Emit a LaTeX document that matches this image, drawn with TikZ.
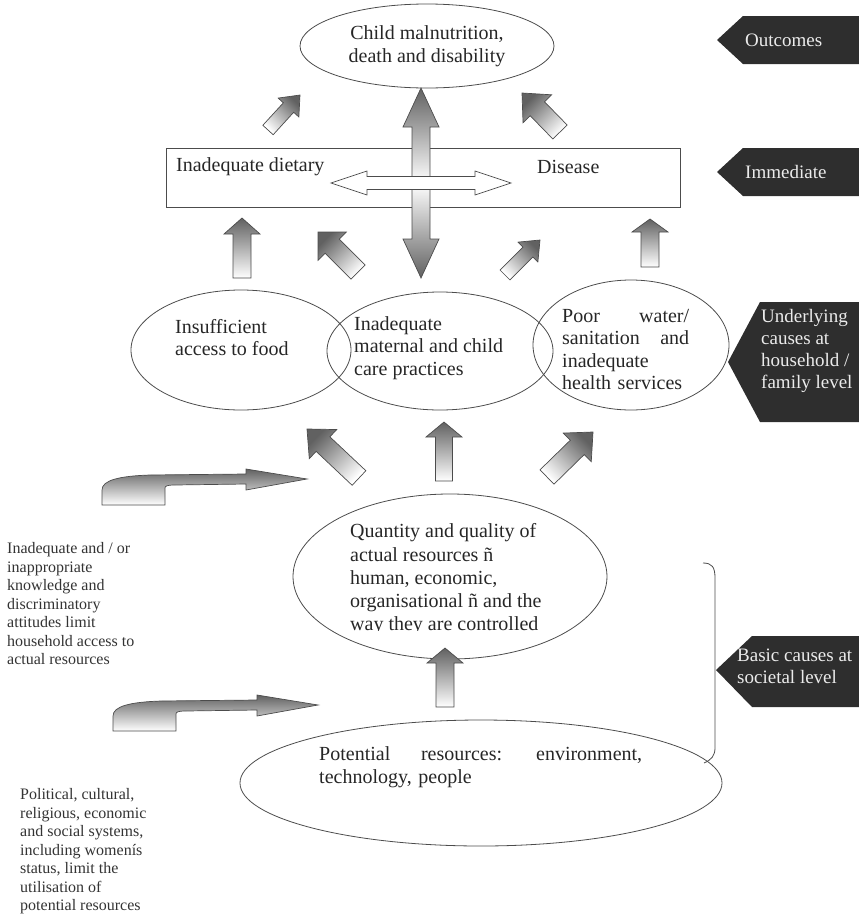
\documentclass[tikz,border=0pt]{standalone}
\usepackage{fontspec}
\setmainfont{Liberation Serif}
\usetikzlibrary{shapes.geometric,calc}

\definecolor{lineg}{gray}{0.3}
\definecolor{tagdark}{gray}{0.18}
\definecolor{headg}{gray}{0.38}

\tikzset{
	oval/.style={ellipse,draw=lineg,line width=0.8pt,inner sep=0pt,outer sep=0pt},
	maintxt/.style={inner sep=0pt,font=\fontsize{20}{22.5}\selectfont,text=black!85,align=left},
	sidetxt/.style={inner sep=0pt,font=\fontsize{16}{18.5}\selectfont,text=black!80,align=left,anchor=west},
	tagtxt/.style={inner sep=0pt,font=\fontsize{19}{21.7}\selectfont,text=white!92!black,align=left,anchor=west},
	tag/.style={fill=tagdark},
	arrowbody/.style={draw=lineg,line width=0.7pt,top color=headg,bottom color=white,shading angle=#1},
	bentbody/.style={draw=lineg,line width=0.7pt,top color=headg,bottom color=white},
	vshade/.style={draw=lineg,line width=0.7pt,top color=headg,bottom color=headg,middle color=white},
	hwhite/.style={draw=lineg,line width=0.7pt,fill=white},
}

% block arrow: [shading angle]{tail}{tip}{half shaft}{half head}{head length}
\newcommand{\blockarrow}[6][0]{%
	\coordinate (hb) at ($(#3)!#6!(#2)$);
	\draw[arrowbody=#1] ($(#2)!#4!90:(#3)$) -- ($(hb)!#4!90:(#3)$) -- ($(hb)!#5!90:(#3)$) -- (#3)
		-- ($(hb)!#5!-90:(#3)$) -- ($(hb)!#4!-90:(#3)$) -- ($(#2)!#4!-90:(#3)$) -- cycle;
}
% double headed block arrow: [style]{end}{end}{half shaft}{half head}{head length}
\newcommand{\dblarrow}[6][hwhite]{%
	\coordinate (da) at ($(#2)!#6!(#3)$);
	\coordinate (db) at ($(#3)!#6!(#2)$);
	\draw[#1] (#2) -- ($(da)!#5!90:(#3)$) -- ($(da)!#4!90:(#3)$) -- ($(db)!#4!90:(#3)$) -- ($(db)!#5!90:(#3)$) -- (#3)
		-- ($(db)!#5!-90:(#3)$) -- ($(db)!#4!-90:(#3)$) -- ($(da)!#4!-90:(#3)$) -- ($(da)!#5!-90:(#3)$) -- cycle;
}
% bent arrow drawn back from its tip
\newcommand{\bentarrow}[1]{%
	\draw[bentbody,shift={(#1)}] (-205,26) -- (-205,11) .. controls (-205,1) and (-187,-3) .. (-157,-4) -- (-61,-5)
		-- (-61,-10) -- (0,0) -- (-61,11) -- (-61,5) -- (-132,6) .. controls (-140,6) and (-142,7) .. (-142,9)
		-- (-142,26) -- cycle;
}

\begin{document}
\begin{tikzpicture}[x=1pt,y=-1pt]
	\useasboundingbox (0,0) rectangle (859,919);

	% outcomes
	\node[oval,maintxt,align=center,minimum width=254pt,minimum height=84pt] (cmd) at (427,46) {Child malnutrition,\\death and disability};

	% immediate causes
	\node[draw=lineg,line width=0.8pt,minimum width=514pt,minimum height=59pt,inner sep=0pt] (imm) at (423,177.5) {};
	\node[maintxt,anchor=west] (diet) at (176,167) {Inadequate dietary};
	\node[maintxt,anchor=west] (dis) at (537,167) {Disease};

	% underlying causes
	\node[oval,minimum width=220pt,minimum height=120pt] (food) at (241,350) {};
	\node[oval,minimum width=226pt,minimum height=118pt] (care) at (440,351) {};
	\node[oval,minimum width=196pt,minimum height=130pt] (wash) at (631,345) {};
	\node[maintxt,anchor=west] (foodt) at (175,337.5) {Insufficient\\access to food};
	\node[maintxt,anchor=west] (caret) at (354,348) {Inadequate\\maternal and child\\care practices};
	\node[maintxt,anchor=west,text width=127pt] (washt) at (562,349.5) {Poor \hfill water/\\sanitation \hfill and\\inadequate\\health services};

	% basic causes
	\node[oval,minimum width=314pt,minimum height=165pt] (qty) at (450,576.5) {};
	\begin{scope}
		\clip (300,500) rectangle (620,630);
		\node[maintxt,anchor=west,font=\fontsize{20}{23.2}\selectfont] (qtyt) at (350,579.5) {Quantity and quality of\\actual resources ñ\\human, economic,\\organisational ñ and the\\way they are controlled};
	\end{scope}
	\node[oval,minimum width=482pt,minimum height=126pt] (pot) at (481,783) {};
	\node[maintxt,anchor=west,text width=323pt] (pott) at (319,767) {Potential \hfill resources: \hfill environment,\\technology, people};
	\draw[lineg,line width=0.8pt] (703,563) .. controls (712,563) and (715,567) .. (715,578) -- (715,748)
		.. controls (715,756) and (711,760) .. (704,763);

	% notes on the left
	\node[sidetxt] (know) at (7,604) {Inadequate and / or\\inappropriate\\knowledge and\\discriminatory\\attitudes limit\\household access to\\actual resources};
	\node[sidetxt] (syst) at (20,851.5) {Political, cultural,\\religious, economic\\and social systems,\\including womenís\\status, limit the\\utilisation of\\potential resources};

	% level tags
	\fill[tag] (743,16) -- (859,16) -- (859,64) -- (743,64) -- (717,40) -- cycle;
	\node[tagtxt] (outc) at (745,40) {Outcomes};
	\fill[tag] (743,148) -- (859,148) -- (859,196) -- (743,196) -- (717,172) -- cycle;
	\node[tagtxt] (immt) at (745,172) {Immediate};
	\fill[tag] (760,302) -- (859,302) -- (859,422) -- (760,422) -- (728,362) -- cycle;
	\node[tagtxt] (undt) at (761,351) {Underlying\\causes at\\household /\\family level};
	\fill[tag] (752,636) -- (859,636) -- (859,707) -- (752,707) -- (716,670) -- cycle;
	\node[tagtxt] (bast) at (737,666) {Basic causes at\\societal level};

	% arrow ends
	\coordinate (s1) at (268,130);	\coordinate (e1) at (300,95);
	\coordinate (s2) at (560,132);	\coordinate (e2) at (522,93);
	\coordinate (s3) at (242,278);	\coordinate (e3) at (242,218);
	\coordinate (s4) at (358,272);	\coordinate (e4) at (318,232);
	\coordinate (s5) at (505,275);	\coordinate (e5) at (540,240);
	\coordinate (s6) at (650,267);	\coordinate (e6) at (650,219);
	\coordinate (s7) at (359,478);	\coordinate (e7) at (307,429);
	\coordinate (s8) at (444,481);	\coordinate (e8) at (444,422);
	\coordinate (s9) at (547,477);	\coordinate (e9) at (593,432);
	\coordinate (s10) at (445,707);	\coordinate (e10) at (445,648);
	\coordinate (vt) at (421,88);	\coordinate (vb) at (421,278);
	\coordinate (hl) at (331,183);	\coordinate (hr) at (511,183);
	\coordinate (k1) at (307,479);	\coordinate (k2) at (318,705);

	\blockarrow[-45]{s1}{e1}{7pt}{14pt}{17pt}
	\blockarrow[45]{s2}{e2}{10pt}{20pt}{22pt}
	\blockarrow{s3}{e3}{9pt}{18pt}{16pt}
	\blockarrow[45]{s4}{e4}{10pt}{20pt}{20pt}
	\blockarrow[-45]{s5}{e5}{7pt}{14pt}{17pt}
	\blockarrow{s6}{e6}{9pt}{18pt}{13pt}
	\blockarrow[45]{s7}{e7}{10pt}{20pt}{22pt}
	\blockarrow{s8}{e8}{8.5pt}{18pt}{15pt}
	\blockarrow[-45]{s9}{e9}{10pt}{20pt}{22pt}
	\blockarrow{s10}{e10}{9pt}{18pt}{15pt}

	\dblarrow[vshade]{vt}{vb}{9pt}{18pt}{39pt}
	\dblarrow{hl}{hr}{6.5pt}{12pt}{36pt}

	\bentarrow{k1}
	\bentarrow{k2}
\end{tikzpicture}
\end{document}
